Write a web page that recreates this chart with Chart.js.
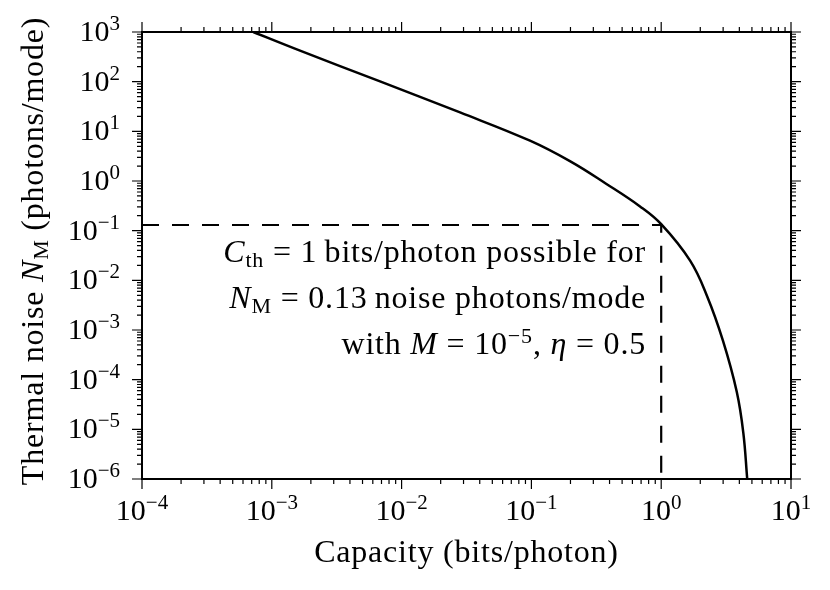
<!DOCTYPE html>
<html>
<head>
<meta charset="utf-8">
<script src="https://cdn.jsdelivr.net/npm/chart.js@4.4.1/dist/chart.umd.min.js"></script>
<style>
  html, body { margin: 0; padding: 0; background: #fff; }
  canvas { display: block; }
</style>
</head>
<body>
<canvas id="chart" width="830" height="590"></canvas>
<script>
/* ── data ── */
const capacity = [7.2e-4, 1.65e-3, 6.82e-3, 0.0282, 0.0975, 0.198, 0.376, 0.687, 1.0, 1.67, 2.25, 2.99, 3.82, 4.29, 4.60];
const noise    = [1000, 421, 101, 24.0, 6.48, 2.51, 0.883, 0.308, 0.135, 0.0249, 0.00491, 6.1e-4, 5.7e-5, 8.6e-6, 1e-6];

const markerX = [1e-4, 1, 1];
const markerY = [0.13, 0.13, 1e-6];

const xTicks = [1e-4, 1e-3, 1e-2, 1e-1, 1, 10];
const xExp   = ['−4', '−3', '−2', '−1', '0', '1'];
const yTicks = [1e-6, 1e-5, 1e-4, 1e-3, 1e-2, 1e-1, 1, 10, 100, 1000];
const yExp   = ['−6', '−5', '−4', '−3', '−2', '−1', '0', '1', '2', '3'];

const FAM = '"Liberation Serif", "DejaVu Serif", serif';
const TICK = { big: 30, small: 21, ls: 0 };
const TEXT = { big: 32, small: 22, ls: 0.8 };

/* ── rich text: parts = [[text, kind]], kind '' | 'i' | 'sup' | 'sub' ── */
function fontFor(kind, st) {
  if (kind === 'i') return 'italic ' + st.big + 'px ' + FAM;
  if (kind === 'sup' || kind === 'sub') return st.small + 'px ' + FAM;
  return st.big + 'px ' + FAM;
}
function richText(ctx, parts, x, y, align, st) {
  ctx.letterSpacing = st.ls + 'px';
  let w = 0;
  const widths = parts.map(([t, k]) => { ctx.font = fontFor(k, st); const m = ctx.measureText(t).width; w += m; return m; });
  let cx = align === 'right' ? x - w : align === 'center' ? x - w / 2 : x;
  ctx.textAlign = 'left';
  ctx.textBaseline = 'alphabetic';
  parts.forEach(([t, k], i) => {
    ctx.font = fontFor(k, st);
    const dy = k === 'sup' ? -11 : k === 'sub' ? 5 : 0;
    ctx.fillText(t, cx, y + dy);
    cx += widths[i];
  });
  ctx.letterSpacing = '0px';
}

function minorsOf(majors) {
  const out = [];
  for (let i = 0; i < majors.length - 1; i++)
    for (let k = 2; k <= 9; k++) out.push(majors[i] * k);
  return out;
}

const axesPlugin = {
  id: 'axesPlugin',
  afterDraw(chart) {
    const { ctx, chartArea: a, scales: { x, y } } = chart;
    ctx.save();
    ctx.fillStyle = '#000';
    ctx.strokeStyle = '#000';

    // ticks, outward on all four sides
    ctx.lineWidth = 1.2;
    const tick = (px, len, horiz) => {
      ctx.beginPath();
      if (horiz) {
        ctx.moveTo(px, a.bottom); ctx.lineTo(px, a.bottom + len);
        ctx.moveTo(px, a.top);    ctx.lineTo(px, a.top - len);
      } else {
        ctx.moveTo(a.left, px);  ctx.lineTo(a.left - len, px);
        ctx.moveTo(a.right, px); ctx.lineTo(a.right + len, px);
      }
      ctx.stroke();
    };
    xTicks.forEach(v => tick(x.getPixelForValue(v), 10, true));
    minorsOf(xTicks).forEach(v => tick(x.getPixelForValue(v), 5, true));
    yTicks.forEach(v => tick(y.getPixelForValue(v), 10, false));
    minorsOf(yTicks).forEach(v => tick(y.getPixelForValue(v), 5, false));

    // frame
    ctx.lineWidth = 2;
    ctx.strokeRect(a.left, a.top, a.right - a.left, a.bottom - a.top);

    // tick labels
    xTicks.forEach((v, i) => richText(ctx, [['10', ''], [xExp[i], 'sup']], x.getPixelForValue(v), 520, 'center', TICK));
    yTicks.forEach((v, i) => richText(ctx, [['10', ''], [yExp[i], 'sup']], 120, y.getPixelForValue(v) + 9, 'right', TICK));

    // axis titles
    richText(ctx, [['Capacity (bits/photon)', '']], (a.left + a.right) / 2, 562, 'center', TEXT);
    ctx.save();
    ctx.translate(43, 251);
    ctx.rotate(-Math.PI / 2);
    richText(ctx, [['Thermal noise ', ''], ['N', 'i'], ['M', 'sub'], [' (photons/mode)', '']], 0, 0, 'center', TEXT);
    ctx.restore();

    // annotation
    const ax = 646;
    richText(ctx, [['C', 'i'], ['th', 'sub'], [' = 1\u2009bits/photon possible for', '']], ax, 262, 'right', TEXT);
    richText(ctx, [['N', 'i'], ['M', 'sub'], [' = 0.13\u2009noise photons/mode', '']], ax, 308, 'right', TEXT);
    richText(ctx, [['with ', ''], ['M', 'i'], [' = 10', ''], ['−5', 'sup'], [', ', ''], ['η', 'i'], [' = 0.5', '']], ax, 354, 'right', TEXT);

    ctx.restore();
  }
};

new Chart(document.getElementById('chart').getContext('2d'), {
  type: 'scatter',
  data: {
    datasets: [
      {
        label: 'capacity',
        data: capacity.map((c, i) => ({ x: c, y: noise[i] })),
        showLine: true, borderColor: '#000', borderWidth: 2.5,
        pointRadius: 0, tension: 0.4
      },
      {
        label: 'marker',
        data: markerX.map((c, i) => ({ x: c, y: markerY[i] })),
        showLine: true, borderColor: '#000', borderWidth: 2.2,
        borderDash: [17, 13], pointRadius: 0
      }
    ]
  },
  options: {
    responsive: false,
    animation: false,
    devicePixelRatio: 1,
    layout: { padding: { left: 0, top: 32, right: 39, bottom: 0 } },
    plugins: { legend: { display: false }, tooltip: { enabled: false } },
    scales: {
      x: {
        type: 'logarithmic', min: 1e-4, max: 10,
        grid: { display: false }, border: { display: false }, ticks: { display: false },
        afterFit: s => { s.height = 111; }
      },
      y: {
        type: 'logarithmic', min: 1e-6, max: 1000,
        grid: { display: false }, border: { display: false }, ticks: { display: false },
        afterFit: s => { s.width = 142; }
      }
    }
  },
  plugins: [axesPlugin]
});
</script>
</body>
</html>
